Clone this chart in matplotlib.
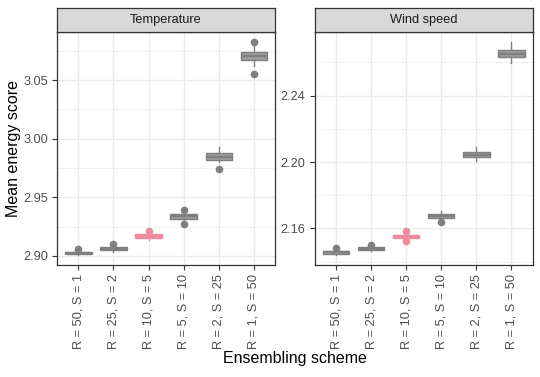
import matplotlib
matplotlib.use('Agg')
import matplotlib.pyplot as plt

plt.rcParams['font.family'] = ['Liberation Sans', 'DejaVu Sans']

schemes = ['R = 50, S = 1', 'R = 25, S = 2', 'R = 10, S = 5',
           'R = 5, S = 10', 'R = 2, S = 25', 'R = 1, S = 50']
highlight = 2  # R = 10, S = 5

# Temperature box stats
temp_q1 = [2.9017, 2.9051, 2.9150, 2.9318, 2.9818, 3.0673]
temp_med = [2.9025, 2.9062, 2.9167, 2.9338, 2.9848, 3.0704]
temp_q3 = [2.9034, 2.9073, 2.9184, 2.9358, 2.9878, 3.0735]
temp_lo = [2.9010, 2.9036, 2.9133, 2.9300, 2.9805, 3.0620]
temp_hi = [2.9040, 2.9088, 2.9195, 2.9375, 2.9932, 3.0790]
temp_fliers = [[2.9057], [2.9100], [2.9217], [2.9395, 2.9275], [2.9744], [3.0824, 3.0555]]

# Wind speed box stats
wind_q1 = [2.1445, 2.1469, 2.1541, 2.1664, 2.2028, 2.2631]
wind_med = [2.1455, 2.1478, 2.1551, 2.1676, 2.2043, 2.2653]
wind_q3 = [2.1465, 2.1487, 2.1561, 2.1688, 2.2058, 2.2675]
wind_lo = [2.1440, 2.1462, 2.1535, 2.1650, 2.2008, 2.2595]
wind_hi = [2.1475, 2.1492, 2.1570, 2.1703, 2.2090, 2.2722]
wind_fliers = [[2.1483], [2.1501], [2.1586, 2.1525], [2.1638], [], []]

panels = [
    ('Temperature', temp_q1, temp_med, temp_q3, temp_lo, temp_hi, temp_fliers,
     (2.8923, 3.0907), [2.90, 2.95, 3.00, 3.05], [2.925, 2.975, 3.025, 3.075]),
    ('Wind speed', wind_q1, wind_med, wind_q3, wind_lo, wind_hi, wind_fliers,
     (2.1379, 2.2782), [2.16, 2.20, 2.24], [2.14, 2.18, 2.22, 2.26]),
]

W, H = 540, 377
fig = plt.figure(figsize=(W / 100, H / 100), dpi=100)

grey_col = '#7f7f7f'
grey_fill = '#9c9c9c'
pink_col = '#f08a9e'
pink_fill = '#f08a9e'

lefts = [57.3, 315.0]
width = 217.5
top, bottom = 32.3, 265.0
strip_top = 7.5
small = 9.2
big = 11.5

for (title, q1, med, q3, lo, hi, fl, ylim, yt, ymin), left in zip(panels, lefts):
    ax = fig.add_axes([left / W, (H - bottom) / H, width / W, (bottom - top) / H])
    for i in range(len(schemes)):
        st = dict(q1=q1[i], med=med[i], q3=q3[i], whislo=lo[i],
                  whishi=hi[i], fliers=fl[i], label=schemes[i])
        col = pink_col if i == highlight else grey_col
        fill = pink_fill if i == highlight else grey_fill
        ax.bxp([st], positions=[i + 1], widths=0.75, showcaps=False,
               patch_artist=True,
               boxprops=dict(facecolor=fill, edgecolor=col, linewidth=1.0),
               medianprops=dict(color=col, linewidth=1.6),
               whiskerprops=dict(color=col, linewidth=1.0),
               flierprops=dict(marker='o', markerfacecolor=col, markeredgecolor=col,
                               markersize=4.5),
               zorder=3)
    ax.set_xticks(range(1, 7))
    ax.set_xticklabels(schemes, rotation=90, fontsize=small, color='#4d4d4d')
    ax.set_yticks(yt)
    ax.set_yticklabels(['%.2f' % v for v in yt], fontsize=small, color='#4d4d4d')
    ax.set_yticks(ymin, minor=True)
    ax.set_xlim(0.4, 6.6)
    ax.set_ylim(*ylim)
    ax.tick_params(axis='both', which='major', length=3.8, width=0.8, color='#333333', pad=3)
    ax.tick_params(axis='y', which='minor', length=0)
    ax.grid(True, which='major', color='#ebebeb', linewidth=1.0, zorder=0)
    ax.grid(True, which='minor', axis='y', color='#ebebeb', linewidth=0.5, zorder=0)
    ax.set_axisbelow(True)
    for sp in ax.spines.values():
        sp.set_color('#333333')
        sp.set_linewidth(0.9)

    sax = fig.add_axes([left / W, (H - top) / H, width / W, (top - strip_top) / H])
    sax.set_facecolor('#d9d9d9')
    sax.set_xticks([])
    sax.set_yticks([])
    for sp in sax.spines.values():
        sp.set_color('#333333')
        sp.set_linewidth(0.9)
    sax.text(0.5, 0.5, title, ha='center', va='center', fontsize=small,
             color='#1a1a1a', transform=sax.transAxes)

fig.text(14 / W, (H - (top + bottom) / 2) / H, 'Mean energy score', rotation=90,
         ha='center', va='center', fontsize=big)
fig.text((57.3 + 532.5) / 2 / W, 1 - 359 / H, 'Ensembling scheme',
         ha='center', va='center', fontsize=big)

fig.savefig('out.png', dpi=100)
